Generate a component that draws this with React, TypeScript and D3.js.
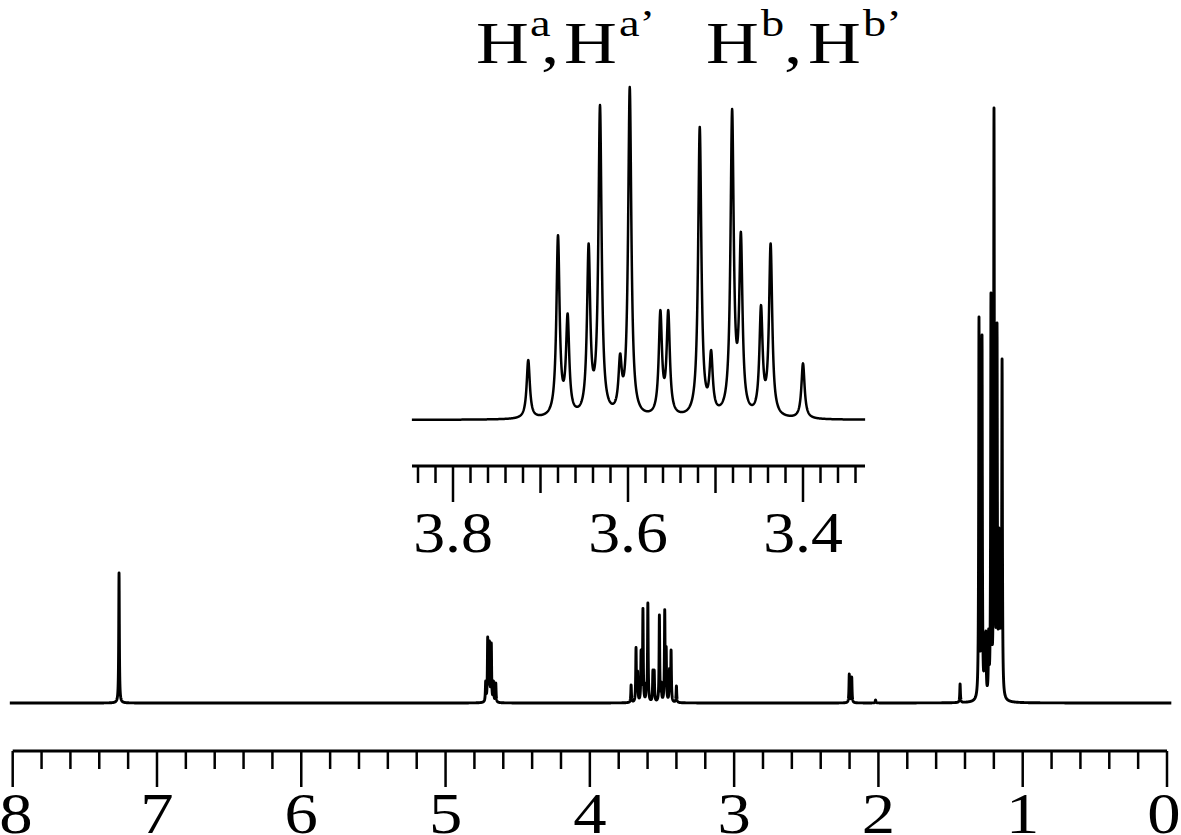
import React from "react";
import * as d3 from "d3";

const W = 1181;
const H = 835;

// Expanded multiplet (Ha, Ha', Hb, Hb'): ppm and relative intensity (tallest = 100)
const insetPpm = [3.714, 3.68, 3.669, 3.645, 3.632, 3.609, 3.598, 3.563, 3.554, 3.518, 3.505, 3.481, 3.471, 3.448, 3.437, 3.4];
const insetInt = [18, 55.5, 32, 53, 94.6, 20, 100, 33, 33, 88, 21, 93.4, 56.5, 34.5, 53, 17];

// Remaining lines of the full spectrum (same intensity units)
const otherPpm = [7.263, 4.722, 4.708, 4.696, 4.683, 4.668, 4.652, 2.202, 2.185, 2.02, 1.434,
  1.303, 1.29, 1.282, 1.265, 1.255, 1.236, 1.22, 1.205, 1.199, 1.19, 1.178, 1.165, 1.155, 1.143];
const otherInt = [130, 22, 66, 62, 60, 22, 20, 29, 26, 3, 19,
  386, 76, 368, 70, 72, 74, 410, 110, 595, 120, 380, 175, 170, 344];

// Axis ticks / labels
const mainLabels = ["0", "1", "2", "3", "4", "5", "6", "7", "8"];
const insetLabels = ["3.8", "3.6", "3.4"];

const LW_MAIN = 0.0025; // half width at half maximum, ppm
const LW_INSET = 0.0022;

function lor(x: number, x0: number, w: number) {
  const d = (x - x0) / w;
  return 1 / (1 + d * d);
}
function solveAmps(pos: number[], target: number[], w: number) {
  let a = target.slice();
  for (let it = 0; it < 40; it++) {
    a = target.map((t, i) => {
      let s = 0;
      pos.forEach((p, j) => {
        if (j !== i) s += a[j] * lor(pos[i], p, w);
      });
      return Math.max(0, t - s);
    });
  }
  return a;
}
function sample(pos: number[], amps: number[], w: number, from: number, to: number, step: number) {
  const pts: [number, number][] = [];
  for (let x = from; x >= to; x -= step) {
    let s = 0;
    for (let j = 0; j < pos.length; j++) s += amps[j] * lor(x, pos[j], w);
    pts.push([x, s]);
  }
  return pts;
}

export default function App() {
  // main spectrum
  const allPpm = [...insetPpm, ...otherPpm];
  const allInt = [...insetInt, ...otherInt];
  const mainAmps = solveAmps(allPpm, allInt, LW_MAIN);
  const mainPts = sample(allPpm, mainAmps, LW_MAIN, 8.02, -0.03, 0.0005);
  const xMain = d3.scaleLinear().domain([8, 0]).range([12.7, 1167]);
  const yMain = d3.scaleLinear().domain([0, 600]).range([703, 103]);
  const mainLine = d3.line<[number, number]>().x((d) => xMain(d[0])).y((d) => yMain(d[1]));

  // inset
  const insetAmps = solveAmps(insetPpm, insetInt, LW_INSET);
  const insetPts = sample(insetPpm, insetAmps, LW_INSET, 3.847, 3.329, 0.0002);
  const xIn = d3.scaleLinear().domain([3.8, 3.4]).range([453, 803]);
  const yIn = d3.scaleLinear().domain([0, 100]).range([420, 87]);
  const inLine = d3.line<[number, number]>().x((d) => xIn(d[0])).y((d) => yIn(d[1]));

  const mainTicks = d3.range(0, 41).map((i) => i * 0.2);
  const inTicks = d3.range(0, 26).map((i) => 3.34 + i * 0.02);

  const font = "'Liberation Serif', 'Times New Roman', serif";
  const titleParts: { t: string; x: number; sup?: boolean }[] = [
    { t: "H", x: 476 },
    { t: "a", x: 530, sup: true },
    { t: ",", x: 541 },
    { t: "H", x: 564 },
    { t: "a\u2019", x: 619, sup: true },
    { t: "H", x: 706 },
    { t: "b", x: 761, sup: true },
    { t: ",", x: 784 },
    { t: "H", x: 808 },
    { t: "b\u2019", x: 863, sup: true },
  ];

  return (
    <svg width={W} height={H} style={{ position: "absolute", left: 0, top: 0, background: "#fff" }} fontFamily={font}>
      <rect width={W} height={H} fill="#fff" />
      {/* main spectrum */}
      <path d={mainLine(mainPts) || ""} fill="none" stroke="#000" strokeWidth={2.9} strokeLinejoin="round" />
      {/* main axis */}
      <line x1={xMain(8)} x2={xMain(0)} y1={751} y2={751} stroke="#000" strokeWidth={3} />
      {mainTicks.map((v, i) => (
        <line key={i} x1={xMain(v)} x2={xMain(v)} y1={751} y2={i % 5 === 0 ? 787 : 769} stroke="#000" strokeWidth={2.5} />
      ))}
      {mainLabels.map((l) => (
        <text
          key={l}
          transform={`translate(${Math.min(Math.max(xMain(+l), 16), 1164)},833) scale(1.15,1)`}
          textAnchor="middle"
          fontSize={58}
        >
          {l}
        </text>
      ))}

      {/* inset spectrum */}
      <path d={inLine(insetPts) || ""} fill="none" stroke="#000" strokeWidth={2.5} strokeLinejoin="round" />
      <line x1={412} x2={865} y1={466} y2={466} stroke="#000" strokeWidth={3} />
      {inTicks.map((v, i) => {
        const k = Math.round(v * 100);
        const len = k % 20 === 0 ? 36 : k % 10 === 0 ? 27 : 17;
        return <line key={i} x1={xIn(v)} x2={xIn(v)} y1={466} y2={466 + len} stroke="#000" strokeWidth={2.5} />;
      })}
      {insetLabels.map((l) => (
        <text key={l} transform={`translate(${xIn(+l)},552) scale(1.1,1)`} textAnchor="middle" fontSize={58}>
          {l}
        </text>
      ))}

      {/* title */}
      {titleParts.map((p, i) => (
        <text key={i} transform={`translate(${p.x},${p.sup ? 36 : 63}) scale(1.22,1)`} fontSize={p.sup ? 38 : 60}>
          {p.t}
        </text>
      ))}
    </svg>
  );
}
